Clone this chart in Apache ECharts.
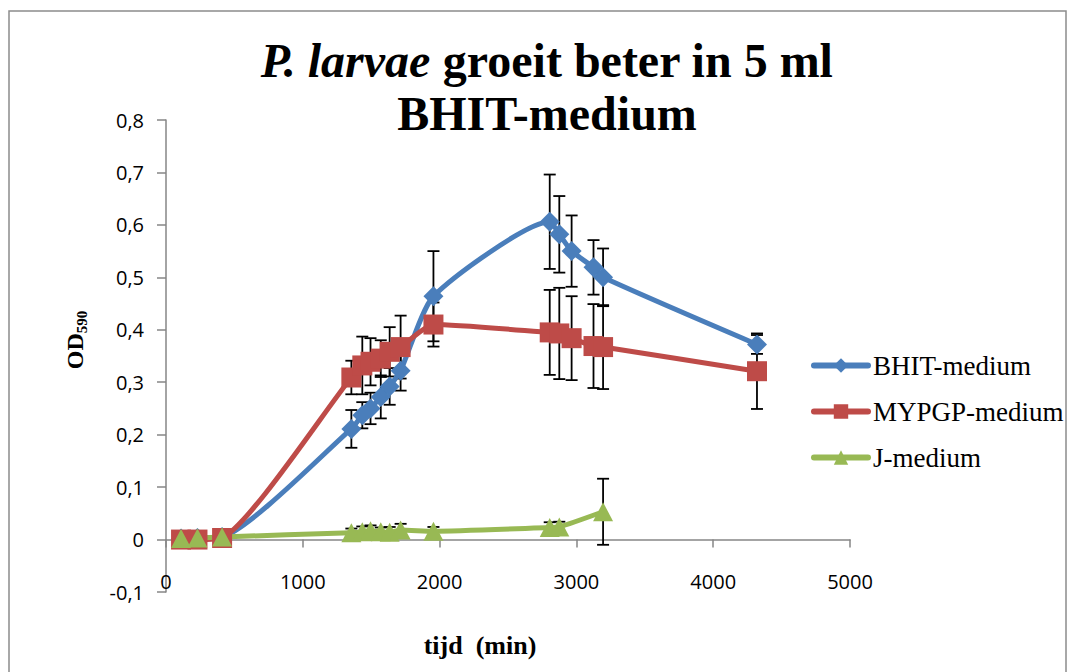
<!DOCTYPE html>
<html><head><meta charset="utf-8">
<script src="https://cdn.jsdelivr.net/npm/echarts@6/dist/echarts.min.js"></script>
<style>html,body{margin:0;padding:0;background:#fff}#c{width:1074px;height:672px}</style>
</head><body><div id="c"></div>
<script>
// time points (min)
const times = [110, 230, 410, 1355, 1435, 1495, 1570, 1635, 1715, 1955, 2805, 2875, 2965, 3125, 3195, 4320];
const bhit = [0.002, 0.003, 0.005, 0.211, 0.237, 0.25, 0.272, 0.292, 0.322, 0.464, 0.606, 0.582, 0.55, 0.519, 0.5, 0.372];
const bhitErr = [0.004, 0.004, 0.004, 0.036, 0.025, 0.03, 0.041, 0.035, 0.038, 0.086, 0.09, 0.073, 0.068, 0.052, 0.055, 0.018];
const mypgp = [0.0, 0.0, 0.003, 0.309, 0.332, 0.339, 0.345, 0.358, 0.367, 0.41, 0.395, 0.393, 0.384, 0.369, 0.367, 0.321];
const mypgpErr = [0.004, 0.004, 0.004, 0.032, 0.055, 0.045, 0.035, 0.047, 0.06, 0.042, 0.081, 0.087, 0.08, 0.08, 0.08, 0.072];
const jTimes = [110, 230, 410, 1355, 1435, 1495, 1570, 1635, 1715, 1955, 2805, 2875, 3195];
const jmed = [0.002, 0.003, 0.005, 0.013, 0.015, 0.017, 0.015, 0.014, 0.018, 0.016, 0.023, 0.024, 0.053];
const jErr = [0.003, 0.003, 0.003, 0.008, 0.01, 0.01, 0.008, 0.01, 0.012, 0.008, 0.01, 0.01, 0.063];
const seriesNames = ['BHIT-medium', 'MYPGP-medium', 'J-medium'];
const yTickLabels = ['-0,1', '0', '0,1', '0,2', '0,3', '0,4', '0,5', '0,6', '0,7', '0,8'];
const xTickLabels = ['0', '1000', '2000', '3000', '4000', '5000'];

const yMin = -0.1, yMax = 0.8, yStep = 0.1;
const xMin = 0, xMax = 5000, xStep = 1000;

const colors = ['#4a7ebb', '#be4b48', '#98b954'];

function pairs(t, v) { return t.map((x, i) => [x, v[i]]); }
function errData(t, v, e) { return t.map((x, i) => [x, v[i], e[i]]); }

function errSeries(name, t, v, e) {
  return {
    type: 'custom', name: name + ' err', z: 1, silent: true,
    data: errData(t, v, e), encode: { x: 0, y: 1 },
    renderItem: function (params, api) {
      const x = api.value(0), y = api.value(1), err = api.value(2);
      const top = api.coord([x, y + err]), bot = api.coord([x, y - err]);
      const hw = 6;
      const st = { stroke: '#000', lineWidth: 1.8 };
      return {
        type: 'group', children: [
          { type: 'line', shape: { x1: top[0], y1: top[1], x2: bot[0], y2: bot[1] }, style: st },
          { type: 'line', shape: { x1: top[0] - hw, y1: top[1], x2: top[0] + hw, y2: top[1] }, style: st },
          { type: 'line', shape: { x1: bot[0] - hw, y1: bot[1], x2: bot[0] + hw, y2: bot[1] }, style: st }
        ]
      };
    }
  };
}

function lineSeries(name, t, v, color, symbol, size) {
  return {
    type: 'line', name: name, z: 3, smooth: 0.2,
    data: pairs(t, v), symbol: symbol, symbolSize: size,
    lineStyle: { color: color, width: 5, cap: 'round', join: 'round' },
    itemStyle: { color: color, borderWidth: 0 },
    emphasis: { disabled: true }
  };
}

const serif = 'Liberation Serif';
const chart = echarts.init(document.getElementById('c'), null, { renderer: 'svg' });
chart.setOption({
  animation: false,
  backgroundColor: '#fff',
  legend: {
    orient: 'vertical', left: 806, top: 347,
    itemWidth: 54, itemHeight: 18, itemGap: 19,
    data: seriesNames,
    lineStyle: { width: 6, cap: 'round' },
    textStyle: { fontFamily: serif, fontSize: 27, color: '#000' }
  },
  grid: { left: 166, right: 224, top: 120, bottom: 80, containLabel: false },
  xAxis: {
    type: 'value', min: xMin, max: xMax, interval: xStep,
    axisLine: { show: true, onZero: true, lineStyle: { color: '#868686', width: 1.5 } },
    axisTick: { show: true, inside: false, length: 8, lineStyle: { color: '#868686', width: 1.5 } },
    axisLabel: {
      margin: -21, fontFamily: 'Open Sans', fontSize: 20, color: '#000',
      formatter: v => xTickLabels[Math.round((v - xMin) / xStep)]
    },
    splitLine: { show: false }
  },
  yAxis: {
    type: 'value', min: yMin, max: yMax, interval: yStep,
    axisLine: { show: true, onZero: false, lineStyle: { color: '#868686', width: 1.5 } },
    axisTick: { show: true, inside: false, length: 9, lineStyle: { color: '#868686', width: 1.5 } },
    axisLabel: {
      margin: 22, fontFamily: 'Open Sans', fontSize: 20, color: '#000',
      formatter: v => yTickLabels[Math.round((v - yMin) / yStep)]
    },
    splitLine: { show: false }
  },
  graphic: [
    { type: 'rect', shape: { x: 9, y: 11, width: 1057, height: 700 }, style: { fill: 'none', stroke: '#8c8c8c', lineWidth: 1.5 }, silent: true },
    {
      type: 'text', x: 547, y: 34,
      style: {
        text: '{i|P. larvae}{n| groeit beter in 5 ml}\n{n|BHIT-medium}', align: 'center', verticalAlign: 'top',
        rich: {
          i: { fontFamily: serif, fontWeight: 'bold', fontStyle: 'italic', fontSize: 48, lineHeight: 53, fill: '#000' },
          n: { fontFamily: serif, fontWeight: 'bold', fontSize: 48, lineHeight: 53, fill: '#000' }
        }
      }
    },
    {
      type: 'text', x: 75, y: 340, rotation: Math.PI / 2,
      style: {
        text: '{a|OD}{b|590}', align: 'center', verticalAlign: 'middle',
        rich: {
          a: { fontFamily: serif, fontWeight: 'bold', fontSize: 24, lineHeight: 28, fill: '#000' },
          b: { fontFamily: serif, fontWeight: 'bold', fontSize: 15, lineHeight: 13, verticalAlign: 'bottom', fill: '#000' }
        }
      }
    },
    {
      type: 'text', x: 480, y: 645,
      style: { text: 'tijd  (min)', fontFamily: serif, fontWeight: 'bold', fontSize: 26, fill: '#000', align: 'center', verticalAlign: 'middle' }
    }
  ],
  series: [
    errSeries(seriesNames[0], times, bhit, bhitErr),
    errSeries(seriesNames[1], times, mypgp, mypgpErr),
    errSeries(seriesNames[2], jTimes, jmed, jErr),
    lineSeries(seriesNames[0], times, bhit, colors[0], 'diamond', 20),
    lineSeries(seriesNames[1], times, mypgp, colors[1], 'rect', 20),
    lineSeries(seriesNames[2], jTimes, jmed, colors[2], 'triangle', [20, 19])
  ]
});
</script>
</body></html>
